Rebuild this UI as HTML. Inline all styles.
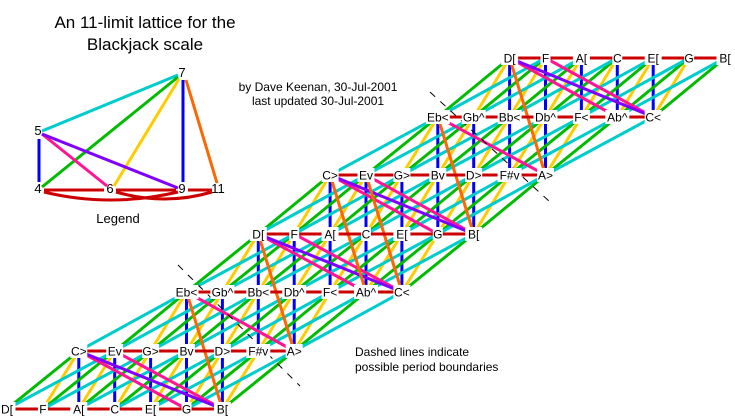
<!DOCTYPE html>
<html><head><meta charset="utf-8"><style>
html,body{margin:0;padding:0;background:#fff;}
svg{display:block;font-family:"Liberation Sans",Arial,sans-serif;}
</style></head><body>
<svg id="s" width="735" height="420" viewBox="0 0 735 420" xmlns="http://www.w3.org/2000/svg">
<g id="edges" stroke-width="3" fill="none" stroke-linecap="butt"></g>
<g id="dash" stroke="#000" stroke-width="1" stroke-dasharray="7 7">
<line x1="178" y1="265" x2="300" y2="386"/>
<line x1="430" y1="92" x2="550" y2="202"/>
</g>
<g id="labels" font-size="12" text-anchor="middle"></g>
<!-- legend -->
<g stroke-width="3" fill="none">
<line x1="42" y1="131" x2="178" y2="75" stroke="#00cccc"/>
<line x1="42" y1="187" x2="178" y2="77" stroke="#00bb00"/>
<line x1="114" y1="186" x2="179" y2="79" stroke="#ffcc00"/>
<line x1="183" y1="80" x2="183" y2="182" stroke="#0000ff"/>
<line x1="39" y1="139" x2="39" y2="182" stroke="#0000ff"/>
<line x1="186" y1="80" x2="217" y2="183" stroke="#ff6600"/>
<line x1="42" y1="134" x2="107" y2="186" stroke="#ff1493"/>
<line x1="42" y1="134" x2="178" y2="188" stroke="#7f00ff"/>
<line x1="44" y1="190" x2="104" y2="190" stroke="#cc0000"/>
<line x1="116" y1="190" x2="176" y2="190" stroke="#cc0000"/>
<line x1="188" y1="190" x2="212" y2="190" stroke="#cc0000"/>
<path d="M44 192 Q110 208 178 192" stroke="#cc0000"/>
<path d="M116 192 Q165 206 212 192" stroke="#cc0000"/>
</g>
<g font-size="13" text-anchor="middle">
<text x="182" y="77">7</text>
<text x="38" y="135">5</text>
<text x="38" y="193">4</text>
<text x="110" y="193">6</text>
<text x="182" y="193">9</text>
<text x="218" y="193">11</text>
<text x="118" y="223">Legend</text>
</g>
<g font-size="17" text-anchor="middle">
<text x="145" y="28">An 11-limit lattice for the</text>
<text x="145" y="50">Blackjack scale</text>
</g>
<g font-size="12" text-anchor="middle">
<text x="318" y="91">by Dave Keenan, 30-Jul-2001</text>
<text x="318" y="105">last updated 30-Jul-2001</text>
</g>
<g font-size="12">
<text x="355" y="356">Dashed lines indicate</text>
<text x="355" y="371">possible period boundaries</text>
</g>
</svg>
<script>
(function(){
var NS="http://www.w3.org/2000/svg";
var starts=[0,2,5,7,9,12,14], ys=[409,351,292,234,175,117,58];
var A=["D[","F","A[","C","E[","G","B["],B=["C>","Ev","G>","Bv","D>","F#v","A>"],C=["Eb<","Gb^","Bb<","Db^","F<","Ab^","C<"];
var names=[A,B,C,A,B,C,A];
function X(i){return 7+35.9*i;}
function has(L,i){return L>=0&&L<7&&i>=starts[L]&&i<starts[L]+7;}
var eg=document.getElementById("edges"),lg=document.getElementById("labels");
function ln(x1,y1,x2,y2,c){var l=document.createElementNS(NS,"line");l.setAttribute("x1",x1);l.setAttribute("y1",y1);l.setAttribute("x2",x2);l.setAttribute("y2",y2);l.setAttribute("stroke",c);eg.appendChild(l);}
var vec=[[1,0,"#0000ff"],[1,1,"#ffcc00"],[1,2,"#00bb00"],[1,3,"#00cccc"],[-1,3,"#ff1493"],[-1,4,"#7f00ff"],[-2,1,"#ff6600"]];
vec.forEach(function(v){
 for(var L=0;L<7;L++)for(var i=starts[L];i<starts[L]+7;i++){
  var L2=L+v[0],i2=i+v[1];
  if(has(L2,i2)) ln(X(i),ys[L],X(i2),ys[L2],v[2]);
 }});
for(var L=0;L<7;L++){
 for(var k=0;k<6;k++){var i=starts[L]+k;ln(X(i),ys[L],X(i+1),ys[L],"#cc0000");}
 for(var k=0;k<7;k++){
  var i=starts[L]+k,t=names[L][k],w=t.length*7+3;
  var r=document.createElementNS(NS,"rect");r.setAttribute("x",X(i)-w/2);r.setAttribute("y",ys[L]-7);r.setAttribute("width",w);r.setAttribute("height",14);r.setAttribute("fill","#fff");lg.appendChild(r);
  var tx=document.createElementNS(NS,"text");tx.setAttribute("x",X(i));tx.setAttribute("y",ys[L]+4.5);tx.textContent=t;lg.appendChild(tx);
 }
}
})();
</script>
</body></html>
